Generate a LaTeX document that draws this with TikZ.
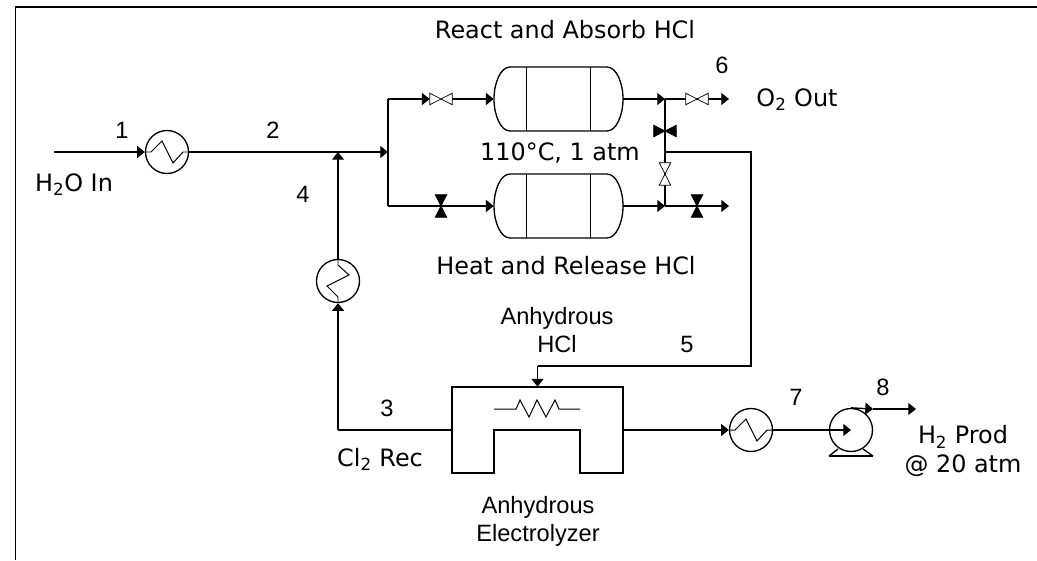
\documentclass[tikz,border=0pt]{standalone}
\usepackage{fontspec}
\setmainfont{DejaVu Sans}
\newfontfamily\arialfont{Liberation Sans}
\usepackage{tikz}
\usetikzlibrary{arrows.meta}
\tikzset{
  pipe/.style={line width=0.95pt,line join=miter},
  flow/.style={pipe,-{Triangle[length=5.5pt,width=8.5pt]}},
  hx/.style={circle,draw,line width=0.95pt,minimum size=1.075cm,inner sep=0},
  vessel/.style={rectangle,minimum width=3.225cm,minimum height=1.6cm,inner sep=0},
  valveh/.style={rectangle,minimum width=0.55cm,minimum height=0.275cm,inner sep=0},
  valvev/.style={rectangle,minimum width=0.275cm,minimum height=0.55cm,inner sep=0},
  lbl/.style={font=\fontsize{17}{20}\selectfont,inner sep=0,align=center},
  num/.style={font=\arialfont\fontsize{16.8}{20}\selectfont,inner sep=0,align=center}
}
\begin{document}
\begin{tikzpicture}[x=0.025cm,y=-0.025cm]
      \useasboundingbox (0,0) rectangle (1037,560);
      \draw[line width=0.9pt] (15.5,560) -- (15.5,7) -- (1037,7);
      \coordinate (feed) at (54,152);
      \coordinate (mix) at (338,152);
      \coordinate (split) at (388,152);
      \coordinate (splittop) at (388,99);
      \coordinate (splitbot) at (388,206);
      \coordinate (outtop) at (665,99);
      \coordinate (outbot) at (665,206);
      \coordinate (tee) at (665,152);
      \coordinate (hcla) at (751,152);
      \coordinate (hclb) at (751,366);
      \coordinate (hclc) at (537.5,366);
      \coordinate (otwo) at (729,99);
      \coordinate (vent) at (729,206);
      \coordinate (corner) at (338,430);
      \coordinate (pumpout) at (873,409);
      \coordinate (prod) at (916,409);
      \node[vessel] (rkta) at (558.5,99) {};
      \node[vessel] (rktb) at (558.5,206) {};
      \node[valveh] (vlva) at (441,99) {};
      \node[valvev] (vlvb) at (441,206) {};
      \node[valveh] (vlvc) at (697,99) {};
      \node[valvev] (vlvd) at (697,206) {};
      \node[valveh] (vlve) at (665,131) {};
      \node[valvev] (vlvf) at (665,174) {};
      \node[hx] (hxa) at (167,152) {};
      \node[hx] (hxb) at (338,281) {};
      \node[hx] (hxc) at (751,430) {};
      \node[hx] (pmp) at (851,430) {};
      \node[rectangle,minimum width=4.275cm,minimum height=2.15cm,inner sep=0] (elz) at (537.5,430) {};
      \draw[flow] (feed) -- (hxa.west);
      \draw[flow] (hxa.east) -- (split);
      \draw[pipe] (splittop) -- (splitbot);
      \draw[flow] (splittop) -- (vlva.west);
      \draw[flow] (vlva.east) -- (rkta.west);
      \draw[flow] (splitbot) -- (rktb.west);
      \draw[flow] (rkta.east) -- (outtop);
      \draw[flow] (rktb.east) -- (outbot);
      \draw[pipe] (outtop) -- (outbot);
      \draw[flow] (outtop) -- (otwo);
      \draw[flow] (outbot) -- (vent);
      \draw[pipe] (tee) -- (hcla) -- (hclb) -- (hclc);
      \draw[flow] (hclc) -- (elz.north);
      \draw[pipe] (elz.west) -- (corner);
      \draw[flow] (corner) -- (hxb.south);
      \draw[flow] (hxb.north) -- (mix);
      \draw[flow] (elz.east) -- (hxc.west);
      \draw[flow] (hxc.east) -- (pmp.center);
      \draw[flow] (pmp.north) -- (pumpout);
      \draw[flow] (pumpout) -- (prod);
      \foreach \v in {rkta,rktb} {
        \begin{scope}[shift={(\v.center)}]
          \draw[pipe] (-48.5,-32) -- (48.5,-32) .. controls (58,-32) and (64.5,-16) .. (64.5,0)
            .. controls (64.5,16) and (58,32) .. (48.5,32) -- (-48.5,32)
            .. controls (-58,32) and (-64.5,16) .. (-64.5,0)
            .. controls (-64.5,-16) and (-58,-32) .. (-48.5,-32);
          \draw[pipe] (-32,-32) -- (-32,32);
          \draw[pipe] (32,-32) -- (32,32);
        \end{scope}
      }
      \foreach \v/\c in {vlva/white,vlvc/white} {
        \draw[line width=0.5pt,fill=\c] (\v.north west) -- (\v.south east) -- (\v.north east) -- (\v.south west) -- cycle;
      }
      \foreach \v/\c in {vlvb/black,vlvd/black,vlvf/white} {
        \draw[line width=0.5pt,fill=\c] (\v.north west) -- (\v.north east) -- (\v.south west) -- (\v.south east) -- cycle;
      }
      \draw[line width=0.5pt,fill=black] (vlve.north west) -- (vlve.south east) -- (vlve.north east) -- (vlve.south west) -- cycle;
      \foreach \h/\r in {hxa/0,hxb/90,hxc/0} {
        \begin{scope}[shift={(\h.center)},rotate=\r]
          \draw[line width=0.7pt] (-21,0) -- (-16,0) -- (-5,-11) -- (6,11) -- (16,0) -- (21,0);
        \end{scope}
      }
      \draw[pipe] (829,456) -- (873,456);
      \draw[pipe] (829,456) -- (838,449);
      \draw[pipe] (873,456) -- (863,449);
      \draw[pipe] (452,387) -- (623,387) -- (623,473) -- (580,473) -- (580,430) -- (494,430) -- (494,473) -- (452,473) -- cycle;
      \draw[line width=0.7pt] (494,409) -- (516,409) -- (520,400) -- (529,417) -- (537,400) -- (546,417) -- (555,400) -- (559,409) -- (580,409);
      \node[lbl] (ttla) at (565,30) {React and Absorb HCl};
      \node[lbl] (ttlb) at (560,153) {110°C, 1 atm};
      \node[lbl] (ttlc) at (566,266) {Heat and Release HCl};
      \node[lbl] (lblin) at (74,185) {H\textsubscript{2}O In};
      \node[lbl] (lblout) at (797,100) {O\textsubscript{2} Out};
      \node[lbl] (lblrec) at (380,459) {Cl\textsubscript{2} Rec};
      \node[lbl] (lblprod) at (963,451) {H\textsubscript{2} Prod\\@ 20 atm};
      \node[num] (lblhcl) at (557,330) {Anhydrous\\HCl};
      \node[num] (lblelz) at (538,521) {Anhydrous\\Electrolyzer};
      \node[num] (numa) at (122,130) {1};
      \node[num] (numb) at (273,130) {2};
      \node[num] (numc) at (387,408) {3};
      \node[num] (numd) at (303,194) {4};
      \node[num] (nume) at (687,344) {5};
      \node[num] (numf) at (722,65) {6};
      \node[num] (numg) at (796,397) {7};
      \node[num] (numh) at (883,387) {8};
    \end{tikzpicture}
\end{document}
